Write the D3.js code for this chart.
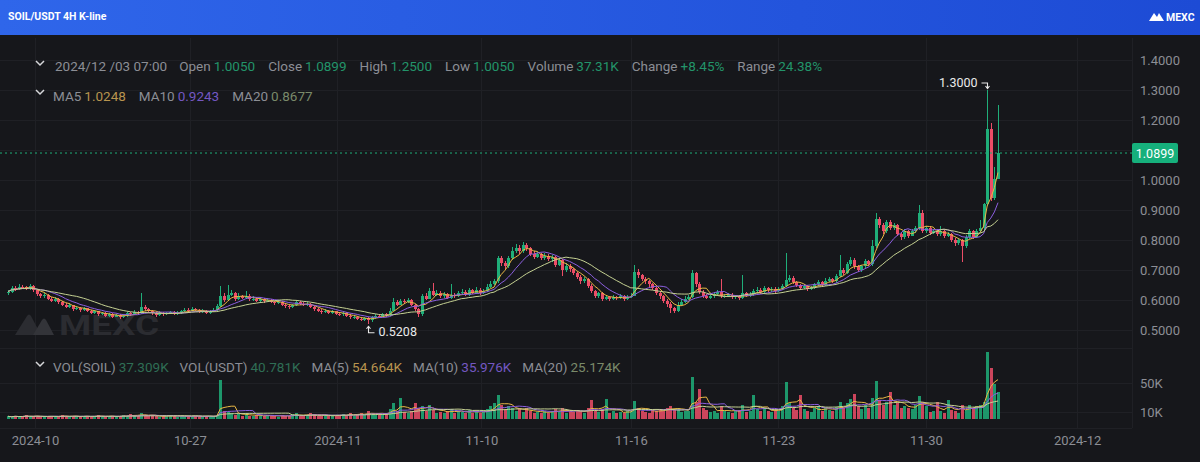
<!DOCTYPE html>
<html><head><meta charset="utf-8">
<script src="https://cdn.jsdelivr.net/npm/d3@7"></script>
<style>
html,body{margin:0;padding:0;background:#16171b;}
svg{display:block;}
text{font-family:Roboto,"Noto Sans",Arial,sans-serif;}
</style></head><body>
<svg id="c" width="1200" height="462"></svg>
<script>
// ---------- DATA ----------
const firstOpen = 0.622;
const closes = [
.628,.640,.636,.645,.642,.638,.646,.632,.620,.612,
.618,.605,.598,.603,.592,.585,.578,.582,.570,.575,
.566,.572,.565,.558,.562,.552,.556,.548,.553,.545,
.550,.542,.548,.556,.552,.560,.556,.578,.570,.562,
.556,.550,.558,.552,.556,.560,.553,.557,.562,.568,
.565,.570,.566,.560,.564,.558,.562,.568,.580,.612,
.600,.618,.622,.605,.612,.608,.615,.603,.605,.598,
.602,.596,.600,.594,.590,.594,.585,.580,.576,.582,
.592,.588,.584,.588,.578,.570,.565,.560,.565,.558,
.562,.555,.552,.556,.548,.542,.545,.538,.535,.540,
.532,.542,.548,.545,.552,.550,.565,.595,.585,.598,
.592,.600,.585,.570,.552,.615,.605,.630,.618,.625,
.612,.620,.608,.618,.612,.622,.628,.618,.632,.625,
.635,.622,.630,.645,.655,.662,.740,.722,.712,.740,
.765,.775,.762,.785,.772,.755,.745,.752,.740,.748,
.738,.742,.718,.732,.700,.715,.702,.690,.678,.665,
.670,.648,.630,.615,.622,.605,.610,.603,.610,.606,
.613,.604,.610,.615,.695,.682,.670,.662,.652,.640,
.625,.612,.598,.588,.572,.565,.585,.595,.605,.610,
.690,.655,.628,.615,.608,.612,.620,.628,.612,.615,
.618,.610,.612,.606,.622,.615,.620,.630,.635,.626,
.640,.632,.638,.630,.636,.648,.668,.675,.660,.650,
.640,.646,.636,.642,.652,.660,.650,.665,.670,.662,
.680,.700,.690,.720,.735,.712,.700,.712,.730,.720,
.780,.870,.850,.830,.860,.840,.850,.820,.810,.830,
.815,.830,.840,.890,.830,.840,.825,.830,.820,.830,
.815,.820,.800,.790,.800,.780,.810,.830,.810,.830,
.840,.920,1.170,.940,1.005,1.0899];
const highs = [
.634,.648,.646,.652,.650,.647,.653,.649,.636,.624,
.624,.621,.609,.610,.606,.596,.589,.590,.585,.581,
.578,.578,.575,.568,.567,.564,.561,.559,.558,.556,
.555,.553,.553,.561,.560,.566,.563,.623,.583,.574,
.566,.560,.563,.561,.561,.565,.563,.562,.567,.574,
.573,.576,.574,.569,.569,.567,.567,.573,.588,.648,
.625,.650,.635,.628,.625,.618,.630,.619,.612,.609,
.608,.606,.606,.603,.598,.600,.597,.589,.584,.588,
.600,.596,.592,.594,.591,.581,.574,.569,.571,.568,
.567,.565,.559,.561,.559,.552,.550,.548,.542,.545,
.543,.547,.553,.553,.557,.557,.572,.607,.600,.605,
.603,.607,.604,.588,.573,.620,.622,.640,.657,.632,
.629,.628,.624,.652,.622,.629,.636,.632,.640,.637,
.643,.639,.637,.652,.663,.670,.747,.748,.730,.748,
.777,.786,.782,.795,.790,.778,.762,.760,.758,.756,
.752,.750,.746,.740,.736,.722,.720,.708,.695,.682,
.678,.675,.652,.634,.628,.626,.616,.614,.617,.614,
.619,.617,.616,.622,.717,.702,.688,.678,.668,.658,
.644,.630,.616,.602,.592,.578,.592,.602,.612,.617,
.700,.694,.660,.632,.620,.618,.626,.634,.670,.621,
.624,.622,.618,.616,.683,.627,.626,.636,.642,.640,
.646,.644,.644,.642,.642,.655,.757,.684,.680,.664,
.654,.652,.650,.648,.658,.667,.664,.672,.678,.675,
.688,.750,.706,.728,.745,.740,.716,.718,.738,.735,
.800,.890,.878,.858,.868,.866,.857,.854,.826,.836,
.835,.836,.848,.917,.900,.848,.846,.838,.835,.848,
.835,.826,.824,.806,.806,.804,.816,.837,.834,.838,
.868,.925,1.300,1.190,1.045,1.250];
const lows = [
.618,.624,.630,.632,.636,.633,.634,.627,.614,.606,
.608,.600,.592,.594,.587,.579,.573,.574,.565,.566,
.561,.562,.560,.553,.554,.547,.549,.544,.545,.540,
.542,.538,.539,.545,.548,.550,.551,.553,.565,.557,
.551,.545,.547,.548,.549,.553,.549,.550,.554,.559,
.561,.562,.562,.556,.557,.554,.555,.559,.565,.577,
.595,.597,.612,.598,.601,.602,.604,.598,.598,.593,
.594,.591,.592,.589,.585,.586,.580,.575,.571,.573,
.579,.583,.579,.580,.573,.565,.560,.555,.556,.553,
.554,.550,.547,.548,.543,.537,.538,.533,.530,.531,
.5208,.528,.538,.540,.542,.545,.547,.562,.580,.582,
.587,.589,.580,.565,.545,.548,.599,.602,.612,.614,
.606,.608,.603,.605,.607,.609,.618,.613,.615,.620,
.622,.617,.619,.627,.641,.650,.658,.715,.700,.708,
.735,.758,.755,.758,.765,.748,.738,.740,.733,.735,
.730,.728,.710,.712,.680,.695,.695,.682,.670,.655,
.658,.640,.622,.606,.608,.598,.600,.597,.599,.600,
.602,.598,.600,.606,.612,.675,.662,.655,.645,.633,
.617,.604,.590,.578,.556,.556,.560,.580,.590,.600,
.606,.645,.620,.608,.602,.603,.606,.615,.606,.607,
.609,.604,.605,.600,.603,.609,.610,.615,.625,.620,
.622,.627,.628,.625,.626,.632,.645,.660,.654,.644,
.634,.636,.630,.632,.638,.648,.645,.647,.660,.657,
.658,.676,.684,.686,.715,.705,.692,.695,.708,.713,
.715,.775,.840,.820,.825,.832,.833,.812,.800,.805,
.808,.812,.825,.835,.825,.825,.818,.820,.812,.815,
.808,.810,.792,.780,.784,.727,.775,.805,.803,.806,
.826,.835,.915,.930,.935,1.005];
const volumes = [ // thousands of SOIL
4,3,5,3,4,6,3,4,5,3,
4,3,5,4,3,6,4,3,5,4,
3,4,5,3,4,6,4,3,4,5,
3,4,6,5,7,4,5,9,6,4,
5,4,3,5,4,6,4,3,5,4,
3,4,5,4,3,4,5,4,6,54,
12,10,8,6,7,5,8,5,4,6,
4,5,6,4,5,3,6,5,4,7,
8,5,4,6,9,7,5,4,6,5,
4,6,5,7,6,8,5,7,9,6,
11,8,6,9,7,8,14,22,12,29,
10,9,12,22,15,18,11,20,13,9,
10,8,12,14,9,11,10,8,13,9,
12,8,10,14,18,22,33,20,14,18,
16,12,14,10,15,11,9,10,8,12,
9,11,14,10,16,9,12,10,13,11,
9,15,26,12,10,14,28,9,11,8,
10,9,12,11,25,16,12,10,9,13,
11,14,12,15,18,13,16,10,12,11,
58,24,42,16,13,10,11,9,18,12,
10,9,11,13,20,10,12,33,14,11,
15,12,10,13,11,18,51,22,16,13,
33,14,12,10,15,18,11,16,13,12,
17,24,15,22,28,35,18,14,20,16,
30,53,26,20,24,37,19,22,15,18,
16,14,20,32,24,18,10,12,24,11,
9,26,13,11,8,20,13,19,16,18,
20,23.5,93,71,48.5,37.309];

const xTickIdx    = [7.5, 50.5, 91.5, 131.5, 173, 214, 255, 297];
const xTickLabels = ["2024-10","10-27","2024-11","11-10","11-16","11-23","11-30","2024-12"];
const priceTicks  = [0.5,0.6,0.7,0.8,0.9,1.0,1.1,1.2,1.3,1.4];
const volTicks    = [10,50];

const titleText = "SOIL/USDT 4H K-line";
const dateText  = "2024/12 /03 07:00";
const infoLabels = ["Open","Close","High","Low","Volume","Change","Range"];
const infoValues = ["1.0050","1.0899","1.2500","1.0050","37.31K","+8.45%","24.38%"];
const maPeriods  = [5,10,20];
const maLabels   = ["MA5","MA10","MA20"];
const maValues   = ["1.0248","0.9243","0.8677"];
const volLabels  = ["VOL(SOIL)","VOL(USDT)","MA(5)","MA(10)","MA(20)"];
const volValues  = ["37.309K","40.781K","54.664K","35.976K","25.174K"];

// ---------- STYLE ----------
const UP="#1fae79", DN="#ec4d67";
const MA_COL=["#eab844","#8c5fe0","#c5d192"];
const MA_TXT=["#b8944f","#7457c2","#7a8a6a"];
const GRID="#1f2025", LABEL="#8c8e95";
const FS=13.5;

const svg = d3.select("#c");
const N = closes.length;
const opens = closes.map((c,i)=> i===0 ? firstOpen : closes[i-1]);

const x  = d3.scaleLinear().domain([0, N-1]).range([8, 998]);
const y  = d3.scaleLinear().domain([0.5, 1.4]).range([330, 60]);
const yv = d3.scaleLinear().domain([0, 50]).range([419.25, 383]);
const step = x(1)-x(0), bw = step*0.66;
const PR = 1132; // right edge of plot
const last = closes[N-1];

// background
svg.append("rect").attr("width",1200).attr("height",462).attr("fill","#16171b");

// header
const defs = svg.append("defs");
const gr = defs.append("linearGradient").attr("id","hd");
gr.append("stop").attr("offset","0%").attr("stop-color","#2f66ea");
gr.append("stop").attr("offset","100%").attr("stop-color","#1d4bd5");
svg.append("rect").attr("width",1200).attr("height",35).attr("fill","url(#hd)");
svg.append("text").attr("x",8).attr("y",20).attr("fill","#fff")
  .attr("font-size",10.5).attr("font-weight",700).text(titleText);
svg.append("path").attr("d","M1149,21 L1154,13 L1157,17 L1159,13 L1164,21 Z").attr("fill","#fff");
svg.append("text").attr("x",1166).attr("y",21).attr("fill","#fff")
  .attr("font-size",10.5).attr("font-weight",700).text("MEXC");

// grid
const grid = svg.append("g").attr("stroke",GRID).attr("stroke-width",1);
priceTicks.forEach(t=>grid.append("line").attr("x1",0).attr("x2",PR).attr("y1",Math.round(y(t))+0.5).attr("y2",Math.round(y(t))+0.5));
volTicks.forEach(t=>grid.append("line").attr("x1",0).attr("x2",PR).attr("y1",Math.round(yv(t))+0.5).attr("y2",Math.round(yv(t))+0.5));
[348.5, 428.5].forEach(v=>grid.append("line").attr("x1",0).attr("x2",PR).attr("y1",v).attr("y2",v));
xTickIdx.forEach(t=>grid.append("line").attr("x1",Math.round(x(t))+0.5).attr("x2",Math.round(x(t))+0.5).attr("y1",38).attr("y2",428));
grid.append("line").attr("x1",PR+0.5).attr("x2",PR+0.5).attr("y1",38).attr("y2",428);

// watermark
const wm = svg.append("g").attr("fill","#2b2c31");
wm.append("path").attr("d","M15,335 L27,316 Q29,313 31,316 L41,335 Z");
wm.append("path").attr("d","M33,335 L42,320 Q44,317 46,320 L54,335 Z").attr("fill","#333439");
wm.append("text").attr("x",59).attr("y",335).attr("font-size",27).attr("font-weight",700)
  .attr("textLength",100).attr("lengthAdjust","spacingAndGlyphs").text("MEXC");

// candles
const cg = svg.append("g").attr("shape-rendering","crispEdges");
const idx = d3.range(N);
cg.selectAll("line.w").data(idx).join("line")
  .attr("x1",i=>Math.round(x(i))+0.5).attr("x2",i=>Math.round(x(i))+0.5)
  .attr("y1",i=>y(highs[i])).attr("y2",i=>y(lows[i]))
  .attr("stroke",i=>closes[i]>=opens[i]?UP:DN);
cg.selectAll("rect.b").data(idx).join("rect")
  .attr("x",i=>Math.round(x(i))+0.5-bw/2).attr("width",bw)
  .attr("y",i=>y(Math.max(opens[i],closes[i])))
  .attr("height",i=>Math.max(1, Math.abs(y(opens[i])-y(closes[i]))))
  .attr("fill",i=>closes[i]>=opens[i]?UP:DN);

// moving averages
const ma = (arr,n)=>arr.map((_,i)=>d3.mean(arr.slice(Math.max(0,i-n+1),i+1)));
maPeriods.forEach((p,k)=>{
  const m = ma(closes,p);
  svg.append("path").attr("d", d3.line().x((d,i)=>x(i)).y(d=>y(d))(m))
    .attr("fill","none").attr("stroke",MA_COL[k]).attr("stroke-width",1);
});

// volume bars
const vg = svg.append("g").attr("shape-rendering","crispEdges");
vg.selectAll("rect").data(idx).join("rect")
  .attr("x",i=>Math.round(x(i))+0.5-bw/2).attr("width",bw)
  .attr("y",i=>yv(volumes[i])).attr("height",i=>yv(0)-yv(volumes[i]))
  .attr("fill",i=>closes[i]>=opens[i]?UP:DN).attr("opacity",0.85);
maPeriods.forEach((p,k)=>{
  const m = ma(volumes,p);
  svg.append("path").attr("d", d3.line().x((d,i)=>x(i)).y(d=>yv(d))(m))
    .attr("fill","none").attr("stroke",MA_COL[k]).attr("stroke-width",1);
});

// axes (price labels hidden where the last-price tag sits)
const fmt4 = d3.format(".4f");
const labelTicks = priceTicks.filter(t=>Math.abs(y(t)-y(last))>14);
const ya = svg.append("g").attr("transform",`translate(1140,0)`)
  .call(d3.axisRight(y).tickValues(labelTicks).tickFormat(fmt4).tickSize(0).tickPadding(0));
const va = svg.append("g").attr("transform",`translate(1140,0)`)
  .call(d3.axisRight(yv).tickValues(volTicks).tickFormat(d=>d+"K").tickSize(0).tickPadding(0));
const xa = svg.append("g").attr("transform",`translate(0,433)`)
  .call(d3.axisBottom(x).tickValues(xTickIdx).tickFormat((d,i)=>xTickLabels[i]).tickSize(0).tickPadding(3));
[ya,va,xa].forEach(a=>{a.select(".domain").remove();
  a.selectAll("text").attr("fill",LABEL).attr("font-size",13).attr("font-family","Roboto,'Noto Sans',Arial,sans-serif");});

// last price line & label
svg.append("line").attr("x1",0).attr("x2",PR).attr("y1",y(last)).attr("y2",y(last))
  .attr("stroke",UP).attr("stroke-dasharray","2,3");
svg.append("rect").attr("x",PR).attr("y",y(last)-10).attr("width",46).attr("height",20).attr("rx",2).attr("fill","#16b07c");
svg.append("text").attr("x",PR+23).attr("y",y(last)+4.5).attr("text-anchor","middle")
  .attr("fill","#fff").attr("font-size",12.5).text(fmt4(last));

// high / low annotations
const hi = d3.maxIndex(highs), lo = d3.minIndex(lows);
const xh = Math.round(x(hi))+0.5, yh = y(highs[hi]);
svg.append("path").attr("d",`M${xh-6},${yh-7} H${xh} V${yh-1.5} M${xh-2},${yh-4} L${xh},${yh-1.5} L${xh+2},${yh-4}`)
  .attr("fill","none").attr("stroke","#e8e8e8").attr("stroke-width",1.1);
svg.append("text").attr("x",xh-10).attr("y",yh-3).attr("text-anchor","end")
  .attr("fill","#eaeaea").attr("font-size",12.5).text(fmt4(highs[hi]));
const xl = Math.round(x(lo))+0.5, yl = y(lows[lo]);
svg.append("path").attr("d",`M${xl+6},${yl+9} H${xl} V${yl+2.5} M${xl-2},${yl+5} L${xl},${yl+2.5} L${xl+2},${yl+5}`)
  .attr("fill","none").attr("stroke","#e8e8e8").attr("stroke-width",1.1);
svg.append("text").attr("x",xl+10).attr("y",yl+12).attr("fill","#eaeaea").attr("font-size",12.5).text(fmt4(lows[lo]));

// legends
function chevron(cx, cy){
  svg.append("path").attr("d",`M${cx-4},${cy-2} L${cx},${cy+2} L${cx+4},${cy-2}`)
    .attr("fill","none").attr("stroke","#d6d7da").attr("stroke-width",1.5);
}
function flow(x0, yb, parts){
  let cx = x0;
  parts.forEach(p=>{
    const t = svg.append("text").attr("x",cx).attr("y",yb).attr("fill",p.fill).attr("font-size",FS).text(p.text);
    cx += t.node().getComputedTextLength() + p.gap;
  });
}
const VALG="#23946a";
chevron(40,63);
const r1=[{text:dateText,fill:LABEL,gap:12}];
infoLabels.forEach((l,i)=>{r1.push({text:l,fill:LABEL,gap:3});r1.push({text:infoValues[i],fill:VALG,gap:13});});
flow(55,71,r1);

chevron(40,92);
const r2=[];
maLabels.forEach((l,i)=>{r2.push({text:l,fill:LABEL,gap:3});r2.push({text:maValues[i],fill:MA_TXT[i],gap:13});});
flow(53,101,r2);

chevron(40,364);
const VT=["#2f6e55","#2f6e55",MA_TXT[0],MA_TXT[1],MA_TXT[2]];
const r3=[];
volLabels.forEach((l,i)=>{r3.push({text:l,fill:LABEL,gap:3});r3.push({text:volValues[i],fill:VT[i],gap:11});});
flow(53,372,r3);
</script>
</body></html>
